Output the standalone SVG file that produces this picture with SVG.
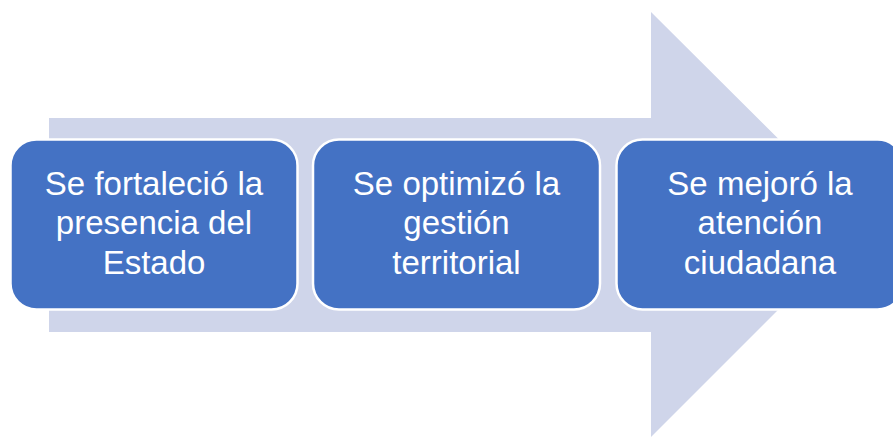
<svg xmlns="http://www.w3.org/2000/svg" width="893" height="437" viewBox="0 0 893 437">
<style>
.box{fill:#4472C4;stroke:#FFFFFF;stroke-width:2.5}
.lbl{fill:#FFFFFF;font-family:"Liberation Sans",Arial,sans-serif;font-size:33px;text-anchor:middle}
</style>
<rect width="893" height="437" fill="#FFFFFF"/>
<g id="connectors">
<polygon id="arrow" points="49,118 651,118 651,12 864,224 651,437 651,332 49,332" fill="#CFD5EA"/>
</g>
<g id="node1">
<rect class="box" x="10.5" y="139.5" width="287" height="170" rx="26"/>
<text class="lbl" x="154" y="195">Se fortaleció la</text>
<text class="lbl" x="154" y="234">presencia del</text>
<text class="lbl" x="154" y="274">Estado</text>
</g>
<g id="node2">
<rect class="box" x="313" y="139.5" width="287" height="170" rx="26"/>
<text class="lbl" x="456.5" y="195">Se optimizó la</text>
<text class="lbl" x="456.5" y="234">gestión</text>
<text class="lbl" x="456.5" y="274">territorial</text>
</g>
<g id="node3">
<rect class="box" x="616.5" y="139.5" width="287" height="170" rx="26"/>
<text class="lbl" x="760" y="195">Se mejoró la</text>
<text class="lbl" x="760" y="234">atención</text>
<text class="lbl" x="760" y="274">ciudadana</text>
</g>
</svg>
